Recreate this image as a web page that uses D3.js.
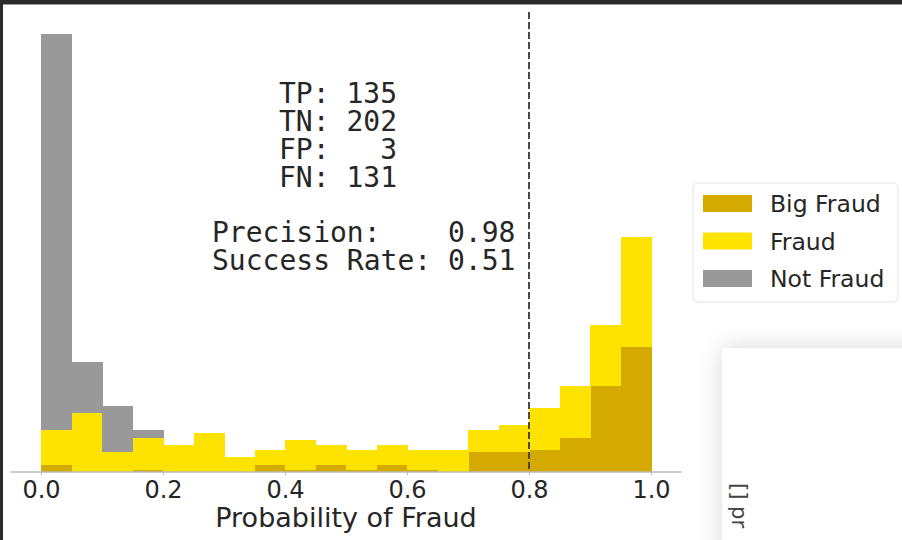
<!DOCTYPE html>
<html lang="en">

<head>
    <meta charset="UTF-8">
    <title>fraud histogram</title>
    <script src="https://d3js.org/d3.v7.min.js"></script>
    <style>
        body { margin: 0; background: #fff; }
        svg text { font-family: "DejaVu Sans", sans-serif; fill: #262626; }
        .mono { font-family: "DejaVu Sans Mono", monospace; font-size: 28px; white-space: pre; }
        .tick text { font-size: 24px; }
    </style>
</head>

<body>
    <script>
        // bins of the predicted probability (left edges, width 0.05)
        var binStarts = [0.00, 0.05, 0.10, 0.15, 0.20, 0.25, 0.30, 0.35, 0.40, 0.45,
                         0.50, 0.55, 0.60, 0.65, 0.70, 0.75, 0.80, 0.85, 0.90, 0.95];
        var binWidth = 0.05;

        // stacked counts per bin
        var bigFraud = [3, 0, 0, 1, 0, 0, 0, 3, 1, 3, 1, 3, 1, 0, 8, 8, 9, 14, 35, 51];
        var fraud    = [14, 24, 8, 13, 11, 16, 6, 6, 12, 8, 8, 8, 8, 9, 9, 11, 17, 21, 25, 45];
        var notFraud = [162, 21, 19, 3, 0, 0, 0, 0, 0, 0, 0, 0, 0, 0, 0, 0, 0, 0, 0, 0];

        var seriesNames = ["Big Fraud", "Fraud", "Not Fraud"];
        var seriesColors = ["#d4aa00", "#ffe300", "#999999"];

        var xTicks = [0.0, 0.2, 0.4, 0.6, 0.8, 1.0];
        var threshold = 0.8;

        var statLines = ["TP: 135", "TN: 202", "FP:   3", "FN: 131"];
        var rateLines = ["Precision:    0.98", "Success Rate: 0.51"];

        var W = 902, H = 540;

        var svg = d3.select("body").append("svg")
            .attr("width", W)
            .attr("height", H);

        var defs = svg.append("defs");
        var shadow = defs.append("filter").attr("id", "shadow")
            .attr("x", "-30%").attr("y", "-30%").attr("width", "160%").attr("height", "160%");
        shadow.append("feDropShadow")
            .attr("dx", 0).attr("dy", 0).attr("stdDeviation", 12)
            .attr("flood-color", "#000").attr("flood-opacity", 0.15);

        // the card of the next cell, bottom right
        svg.append("rect")
            .attr("x", 722).attr("y", 348)
            .attr("width", 240).attr("height", 240)
            .attr("fill", "#fff")
            .attr("filter", "url(#shadow)");
        svg.append("text")
            .attr("transform", "translate(732,483) rotate(90)")
            .style("font-size", "21px")
            .style("fill", "#444")
            .text("[] pr");

        // scales
        var x = d3.scaleLinear().domain([-0.05, 1.05]).range([10.5, 681.5]);
        var ymax = d3.max(binStarts, function (d, i) { return bigFraud[i] + fraud[i] + notFraud[i]; });
        var y = d3.scaleLinear().domain([0, ymax * 1.05]).range([472, 12]);

        var table = binStarts.map(function (b, i) {
            return { x0: b, x1: b + binWidth, "Big Fraud": bigFraud[i], "Fraud": fraud[i], "Not Fraud": notFraud[i] };
        });
        var stacked = d3.stack().keys(seriesNames)(table);

        svg.append("g")
            .attr("shape-rendering", "crispEdges")
            .selectAll("g")
            .data(stacked)
            .enter()
            .append("g")
            .attr("fill", function (d, i) { return seriesColors[i]; })
            .selectAll("rect")
            .data(function (d) { return d; })
            .enter()
            .append("rect")
            .attr("x", function (d) { return x(d.data.x0); })
            .attr("width", function (d) { return x(d.data.x1) - x(d.data.x0) + 0.5; })
            .attr("y", function (d) { return y(d[1]); })
            .attr("height", function (d) { return y(d[0]) - y(d[1]); });

        // bottom axis
        var xAxis = svg.append("g")
            .attr("transform", "translate(0," + y(0) + ")")
            .call(d3.axisBottom(x).tickValues(xTicks).tickFormat(d3.format(".1f")).tickSize(3).tickPadding(5));
        xAxis.select(".domain").remove();
        xAxis.selectAll(".tick line").attr("stroke", "#bbb");
        xAxis.selectAll(".tick text").attr("dy", 0).attr("y", 26);
        svg.append("line")
            .attr("x1", x(-0.05)).attr("x2", x(1.05))
            .attr("y1", y(0)).attr("y2", y(0))
            .attr("stroke", "#bbb").attr("stroke-width", 1.5);

        svg.append("text")
            .attr("x", (x(0) + x(1)) / 2)
            .attr("y", 527)
            .attr("text-anchor", "middle")
            .style("font-size", "27px")
            .text("Probability of Fraud");

        // threshold
        svg.append("line")
            .attr("x1", x(threshold)).attr("x2", x(threshold))
            .attr("y1", y(ymax * 1.05)).attr("y2", y(0))
            .attr("stroke", "#4a4a4a").attr("stroke-width", 2)
            .attr("stroke-dasharray", "7,3");

        // confusion stats, one text block each
        svg.append("text")
            .attr("class", "mono")
            .attr("y", 103)
            .selectAll("tspan")
            .data(statLines)
            .enter()
            .append("tspan")
            .attr("x", 279)
            .attr("dy", function (d, i) { return i ? 28 : 0; })
            .text(function (d) { return d; });

        svg.append("text")
            .attr("class", "mono")
            .attr("y", 242)
            .selectAll("tspan")
            .data(rateLines)
            .enter()
            .append("tspan")
            .attr("x", 212)
            .attr("dy", function (d, i) { return i ? 28 : 0; })
            .text(function (d) { return d; });

        // legend
        var legend = svg.append("g").attr("transform", "translate(693,183)");
        legend.append("rect")
            .attr("width", 205).attr("height", 119)
            .attr("rx", 5)
            .attr("fill", "#fff")
            .attr("stroke", "#e3e3e3");
        var item = legend.selectAll(".item")
            .data(seriesNames)
            .enter()
            .append("g")
            .attr("transform", function (d, i) { return "translate(10," + (12 + i * 37.5) + ")"; });
        item.append("rect")
            .attr("width", 49).attr("height", 17)
            .attr("fill", function (d, i) { return seriesColors[i]; });
        item.append("text")
            .attr("x", 67).attr("y", 17)
            .style("font-size", "23.5px")
            .text(function (d) { return d; });

        // window frame
        svg.append("rect").attr("x", 0).attr("y", 0).attr("width", W).attr("height", 4).attr("fill", "#2b2b2b");
        svg.append("rect").attr("x", 0).attr("y", 4).attr("width", W).attr("height", 1).attr("fill", "#9a9a9a");
        svg.append("rect").attr("x", 0).attr("y", 0).attr("width", 3).attr("height", H).attr("fill", "#2b2b2b");
    </script>
</body>
</html>
